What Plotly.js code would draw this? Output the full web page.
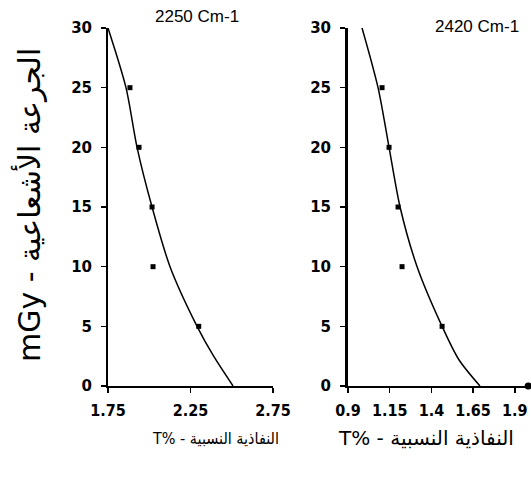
<!DOCTYPE html>
<html><head><meta charset="utf-8">
<script src="https://cdn.plot.ly/plotly-3.0.1.min.js"></script>
<style>body{margin:0;background:#fff}#c{width:531px;height:487px}</style>
</head><body><div id="c"></div>
<script>
// Left panel: 2250 Cm-1
const doseLeft = [25, 20, 15, 10, 5];
const tLeft = [1.883, 1.938, 2.017, 2.023, 2.30];
const fitDoseLeft = [30, 25, 20, 15, 10, 5, 2.6, 0];
const fitTLeft = [1.75, 1.859, 1.926, 2.017, 2.126, 2.29, 2.386, 2.508];
const ticksLeft = [1.75, 2.25, 2.75];
const tickTextLeft = ["1.75", "2.25", "2.75"];

// Right panel: 2420 Cm-1
const doseRight = [25, 20, 15, 10, 5];
const tRight = [1.104, 1.146, 1.20, 1.224, 1.464];
const doseRightEnd = [0];
const tRightEnd = [1.98];
const fitDoseRight = [30.3, 25, 20, 15, 10, 5, 2.2, 0];
const fitTRight = [0.978, 1.08, 1.146, 1.212, 1.314, 1.464, 1.565, 1.691];
const ticksRight = [0.9, 1.15, 1.4, 1.65, 1.9];
const tickTextRight = ["0.9", "1.15", "1.4", "1.65", "1.9"];

const yTicks = [0, 5, 10, 15, 20, 25, 30];
const titles = ["2250 Cm-1", "2420 Cm-1"];
const yTitle = "mGy - الجرعة الأشعاعية";
const xTitle = "T% - النفاذية النسبية";

const mk = {color: "#000", size: 5, symbol: "square"};
const ln = {color: "#000", width: 1.5, shape: "spline", smoothing: 0.8};
const data = [
  {x: fitTLeft, y: fitDoseLeft, mode: "lines", line: ln, xaxis: "x", yaxis: "y", cliponaxis: false},
  {x: tLeft, y: doseLeft, mode: "markers", marker: mk, xaxis: "x", yaxis: "y", cliponaxis: false},
  {x: fitTRight, y: fitDoseRight, mode: "lines", line: ln, xaxis: "x2", yaxis: "y2", cliponaxis: false},
  {x: tRight, y: doseRight, mode: "markers", marker: mk, xaxis: "x2", yaxis: "y2", cliponaxis: false},
  {x: tRightEnd, y: doseRightEnd, mode: "markers", marker: {color: "#000", size: 7, symbol: "circle"},
    xaxis: "x2", yaxis: "y2", cliponaxis: false}
];
const tickFontY = {family: "DejaVu Sans", size: 15, color: "#000", weight: "bold"};
const tickFontX = {family: "Liberation Sans Narrow, DejaVu Sans Condensed, Liberation Sans", size: 16, color: "#000", weight: "bold"};
const axY = {range: [0, 30], tickvals: yTicks, showgrid: false, zeroline: false, showline: true,
  linecolor: "#000", linewidth: 2, ticks: "outside", ticklen: 5, tickwidth: 1.5, tickcolor: "#000",
  tickfont: tickFontY, ticklabelstandoff: 6, domain: [0.2074, 0.9425], fixedrange: true};
const axXbase = {showgrid: false, zeroline: false, showline: true, linecolor: "#000", linewidth: 2,
  ticks: "outside", ticklen: 5, tickwidth: 1.5, tickcolor: "#000", tickfont: tickFontX, ticklabelstandoff: 4};
const layout = {
  width: 531, height: 487, showlegend: false,
  margin: {l: 0, r: 0, t: 0, b: 0},
  paper_bgcolor: "#fff", plot_bgcolor: "#fff",
  xaxis: Object.assign({}, axXbase, {domain: [0.2034, 0.514], range: [1.75, 2.75],
    tickvals: ticksLeft, ticktext: tickTextLeft, anchor: "y"}),
  yaxis: Object.assign({}, axY, {anchor: "x"}),
  xaxis2: Object.assign({}, axXbase, {domain: [0.6554, 1.0], range: [0.9, 1.997],
    tickvals: ticksRight, ticktext: tickTextRight, anchor: "y2"}),
  yaxis2: Object.assign({}, axY, {anchor: "x2", linewidth: 3}),
  annotations: [
    {text: titles[0], x: 197, y: 16, size: 17, fam: "Liberation Sans, Arial"},
    {text: titles[1], x: 477, y: 27, size: 17, fam: "Liberation Sans, Arial"},
    {text: yTitle, x: 29, y: 205, size: 30, fam: "DejaVu Sans", angle: -90},
    {text: xTitle, x: 215, y: 438, size: 16, fam: "DejaVu Sans Condensed, DejaVu Sans"},
    {text: xTitle, x: 426, y: 438, size: 20, fam: "DejaVu Sans"}
  ].map(a => ({text: a.text, xref: "paper", yref: "paper", x: a.x / 531, y: 1 - a.y / 487,
      xanchor: "center", yanchor: "middle", showarrow: false, textangle: a.angle || 0,
      font: {family: a.fam, size: a.size, color: "#000"}}))
};
Plotly.newPlot("c", data, layout, {staticPlot: true});
</script></body></html>
